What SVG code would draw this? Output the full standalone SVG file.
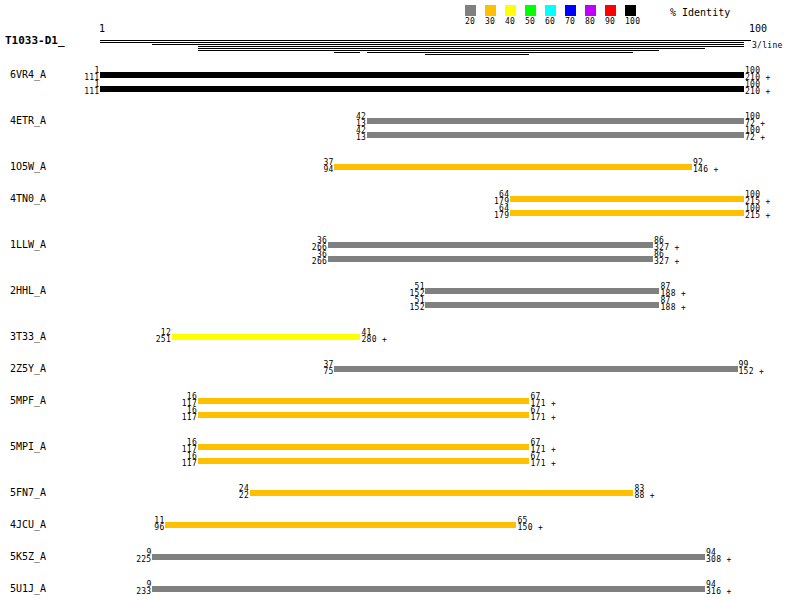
<svg xmlns="http://www.w3.org/2000/svg" width="800" height="600" viewBox="0 0 800 600">
<style>
  .bg{fill:#ffffff}
  .lbl{font-family:"DejaVu Sans Mono","Liberation Mono",monospace;font-size:10px;fill:#000}
  .num{font-family:"DejaVu Sans Mono","Liberation Mono",monospace;font-size:8px;letter-spacing:0.3px;fill:#000}
  .numL{font-family:"DejaVu Sans Mono","Liberation Mono",monospace;font-size:8px;letter-spacing:0.3px;fill:#000;text-anchor:end}
  .ttl{font-family:"DejaVu Sans Mono","Liberation Mono",monospace;font-size:11px;font-weight:bold;fill:#000}
  .cov{stroke:#000;stroke-width:1;shape-rendering:crispEdges;fill:none}
  rect{shape-rendering:crispEdges}
  .c20{fill:#808080}.c30{fill:#ffc000}.c40{fill:#ffff00}.c50{fill:#00ff00}.c60{fill:#00ffff}
  .c70{fill:#0000ff}.c80{fill:#c000ff}.c90{fill:#ff0000}.c100{fill:#000000}
</style>
<rect class="bg" x="0" y="0" width="800" height="600"/>

<g id="legend">
  <rect class="c20" x="465" y="5" width="11" height="11"/>
  <rect class="c30" x="485" y="5" width="11" height="11"/>
  <rect class="c40" x="505" y="5" width="11" height="11"/>
  <rect class="c50" x="525" y="5" width="11" height="11"/>
  <rect class="c60" x="545" y="5" width="11" height="11"/>
  <rect class="c70" x="565" y="5" width="11" height="11"/>
  <rect class="c80" x="585" y="5" width="11" height="11"/>
  <rect class="c90" x="605" y="5" width="11" height="11"/>
  <rect class="c100" x="625" y="5" width="11" height="11"/>
  <text class="num" x="465" y="24">20</text>
  <text class="num" x="485" y="24">30</text>
  <text class="num" x="505" y="24">40</text>
  <text class="num" x="525" y="24">50</text>
  <text class="num" x="545" y="24">60</text>
  <text class="num" x="565" y="24">70</text>
  <text class="num" x="585" y="24">80</text>
  <text class="num" x="605" y="24">90</text>
  <text class="num" x="625" y="24">100</text>
  <text class="lbl" x="670" y="16">% Identity</text>
</g>

<g id="header">
  <text class="ttl" x="5" y="44">T1033-D1_</text>
  <text class="lbl" x="99" y="32">1</text>
  <text class="lbl" x="749" y="32">100</text>
  <text class="num" x="752" y="48">3/line</text>
</g>

<g id="connectors">
  <path class="cov" d="M100 40.5H751 M100 42.5H744 M152 44.5H744 M197.6 46.5H744 M197.6 48.5H705 M197.6 50.5H659.4 M334.2 52.5H360.2 M366.7 52.5H633.4 M425.3 54.5H529.3"/>
</g>

<g id="row-6VR4_A">
  <text class="lbl" x="10" y="78">6VR4_A</text>
  <rect class="c100" x="100" y="72" width="644" height="6"/>
  <text class="numL" x="99.5" y="72.5">1</text><text class="numL" x="99.5" y="80">111</text>
  <text class="num" x="745" y="72.5">100</text><text class="num" x="745" y="80">210 +</text>
  <rect class="c100" x="100" y="86" width="644" height="6"/>
  <text class="numL" x="99.5" y="86.5">1</text><text class="numL" x="99.5" y="94">111</text>
  <text class="num" x="745" y="86.5">100</text><text class="num" x="745" y="94">210 +</text>
</g>

<g id="row-4ETR_A">
  <text class="lbl" x="10" y="124">4ETR_A</text>
  <rect class="c20" x="366.7" y="118" width="377.3" height="6"/>
  <text class="numL" x="366.2" y="118.5">42</text><text class="numL" x="366.2" y="126">13</text>
  <text class="num" x="745" y="118.5">100</text><text class="num" x="745" y="126">72 +</text>
  <rect class="c20" x="366.7" y="132" width="377.3" height="6"/>
  <text class="numL" x="366.2" y="132.5">42</text><text class="numL" x="366.2" y="140">13</text>
  <text class="num" x="745" y="132.5">100</text><text class="num" x="745" y="140">72 +</text>
</g>

<g id="row-1O5W_A">
  <text class="lbl" x="10" y="170">1O5W_A</text>
  <rect class="c30" x="334.2" y="164" width="357.8" height="6"/>
  <text class="numL" x="333.7" y="164.5">37</text><text class="numL" x="333.7" y="172">94</text>
  <text class="num" x="693" y="164.5">92</text><text class="num" x="693" y="172">146 +</text>
</g>

<g id="row-4TN0_A">
  <text class="lbl" x="10" y="202">4TN0_A</text>
  <rect class="c30" x="509.8" y="196" width="234.2" height="6"/>
  <text class="numL" x="509.3" y="196.5">64</text><text class="numL" x="509.3" y="204">179</text>
  <text class="num" x="745" y="196.5">100</text><text class="num" x="745" y="204">215 +</text>
  <rect class="c30" x="509.8" y="210" width="234.2" height="6"/>
  <text class="numL" x="509.3" y="210.5">64</text><text class="numL" x="509.3" y="218">179</text>
  <text class="num" x="745" y="210.5">100</text><text class="num" x="745" y="218">215 +</text>
</g>

<g id="row-1LLW_A">
  <text class="lbl" x="10" y="248">1LLW_A</text>
  <rect class="c20" x="327.7" y="242" width="325.2" height="6"/>
  <text class="numL" x="327.2" y="242.5">36</text><text class="numL" x="327.2" y="250">266</text>
  <text class="num" x="654" y="242.5">86</text><text class="num" x="654" y="250">327 +</text>
  <rect class="c20" x="327.7" y="256" width="325.2" height="6"/>
  <text class="numL" x="327.2" y="256.5">36</text><text class="numL" x="327.2" y="264">266</text>
  <text class="num" x="654" y="256.5">86</text><text class="num" x="654" y="264">327 +</text>
</g>

<g id="row-2HHL_A">
  <text class="lbl" x="10" y="294">2HHL_A</text>
  <rect class="c20" x="425.3" y="288" width="234.1" height="6"/>
  <text class="numL" x="424.8" y="288.5">51</text><text class="numL" x="424.8" y="296">152</text>
  <text class="num" x="660.5" y="288.5">87</text><text class="num" x="660.5" y="296">188 +</text>
  <rect class="c20" x="425.3" y="302" width="234.1" height="6"/>
  <text class="numL" x="424.8" y="302.5">51</text><text class="numL" x="424.8" y="310">152</text>
  <text class="num" x="660.5" y="302.5">87</text><text class="num" x="660.5" y="310">188 +</text>
</g>

<g id="row-3T33_A">
  <text class="lbl" x="10" y="340">3T33_A</text>
  <rect class="c40" x="171.6" y="334" width="188.6" height="6"/>
  <text class="numL" x="171.1" y="334.5">12</text><text class="numL" x="171.1" y="342">251</text>
  <text class="num" x="361.5" y="334.5">41</text><text class="num" x="361.5" y="342">280 +</text>
</g>

<g id="row-2Z5Y_A">
  <text class="lbl" x="10" y="372">2Z5Y_A</text>
  <rect class="c20" x="334.2" y="366" width="403.3" height="6"/>
  <text class="numL" x="333.7" y="366.5">37</text><text class="numL" x="333.7" y="374">75</text>
  <text class="num" x="738.5" y="366.5">99</text><text class="num" x="738.5" y="374">152 +</text>
</g>

<g id="row-5MPF_A">
  <text class="lbl" x="10" y="404">5MPF_A</text>
  <rect class="c30" x="197.6" y="398" width="331.7" height="6"/>
  <text class="numL" x="197.1" y="398.5">16</text><text class="numL" x="197.1" y="406">117</text>
  <text class="num" x="530.5" y="398.5">67</text><text class="num" x="530.5" y="406">171 +</text>
  <rect class="c30" x="197.6" y="412" width="331.7" height="6"/>
  <text class="numL" x="197.1" y="412.5">16</text><text class="numL" x="197.1" y="420">117</text>
  <text class="num" x="530.5" y="412.5">67</text><text class="num" x="530.5" y="420">171 +</text>
</g>

<g id="row-5MPI_A">
  <text class="lbl" x="10" y="450">5MPI_A</text>
  <rect class="c30" x="197.6" y="444" width="331.7" height="6"/>
  <text class="numL" x="197.1" y="444.5">16</text><text class="numL" x="197.1" y="452">117</text>
  <text class="num" x="530.5" y="444.5">67</text><text class="num" x="530.5" y="452">171 +</text>
  <rect class="c30" x="197.6" y="458" width="331.7" height="6"/>
  <text class="numL" x="197.1" y="458.5">16</text><text class="numL" x="197.1" y="466">117</text>
  <text class="num" x="530.5" y="458.5">67</text><text class="num" x="530.5" y="466">171 +</text>
</g>

<g id="row-5FN7_A">
  <text class="lbl" x="10" y="496">5FN7_A</text>
  <rect class="c30" x="249.6" y="490" width="383.8" height="6"/>
  <text class="numL" x="249.1" y="490.5">24</text><text class="numL" x="249.1" y="498">22</text>
  <text class="num" x="634.5" y="490.5">83</text><text class="num" x="634.5" y="498">88 +</text>
</g>

<g id="row-4JCU_A">
  <text class="lbl" x="10" y="528">4JCU_A</text>
  <rect class="c30" x="165.1" y="522" width="351.2" height="6"/>
  <text class="numL" x="164.6" y="522.5">11</text><text class="numL" x="164.6" y="530">96</text>
  <text class="num" x="517.5" y="522.5">65</text><text class="num" x="517.5" y="530">150 +</text>
</g>

<g id="row-5K5Z_A">
  <text class="lbl" x="10" y="560">5K5Z_A</text>
  <rect class="c20" x="152" y="554" width="553" height="6"/>
  <text class="numL" x="151.5" y="554.5">9</text><text class="numL" x="151.5" y="562">225</text>
  <text class="num" x="706" y="554.5">94</text><text class="num" x="706" y="562">308 +</text>
</g>

<g id="row-5U1J_A">
  <text class="lbl" x="10" y="592">5U1J_A</text>
  <rect class="c20" x="152" y="586" width="553" height="6"/>
  <text class="numL" x="151.5" y="586.5">9</text><text class="numL" x="151.5" y="594">233</text>
  <text class="num" x="706" y="586.5">94</text><text class="num" x="706" y="594">316 +</text>
</g>
</svg>
